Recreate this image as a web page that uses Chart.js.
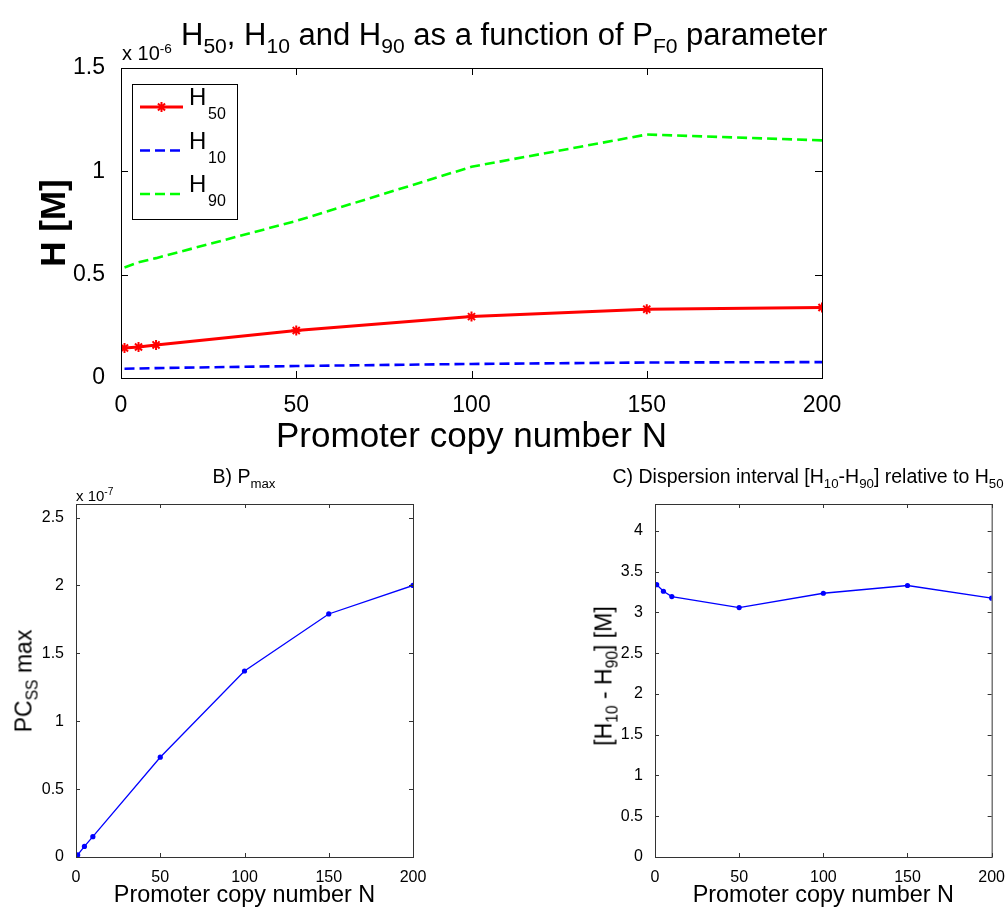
<!DOCTYPE html>
<html>
<head>
<meta charset="utf-8">
<script src="https://cdn.jsdelivr.net/npm/chart.js@4.4.1/dist/chart.umd.min.js"></script>
<style>
  body { margin:0; background:#fff; width:1008px; height:910px; position:relative; overflow:hidden;
         font-family:"Liberation Sans", Arial, sans-serif; color:#000; }
  canvas { position:absolute; }
  .t { position:absolute; white-space:nowrap; line-height:1; }
  .sb { font-size:0.68em; position:relative; top:0.38em; }
  .sp { font-size:0.68em; position:relative; top:-0.55em; }
  .rot { transform:translate(-50%,-50%) rotate(-90deg); }
  .ctr { transform:translateX(-50%); }
</style>
</head>
<body>
<canvas id="top-chart" width="1008" height="460" style="left:0;top:0;"></canvas>
<canvas id="b-chart" width="500" height="450" style="left:0;top:460px;"></canvas>
<canvas id="c-chart" width="508" height="450" style="left:500px;top:460px;"></canvas>

<!-- 제목, 지수, 아래첨자 있는 축 제목 -->
<div class="t" style="left:122px;top:43px;font-size:20px;">x 10<span class="sp">-6</span></div>
<div class="t" style="left:181px;top:19px;font-size:31px;">H<span class="sb">50</span>, H<span class="sb">10</span> and H<span class="sb">90</span> as a function of P<span class="sb">F0</span> parameter</div>

<div class="t" style="left:76px;top:488px;font-size:15px;">x 10<span class="sp">-7</span></div>
<div class="t ctr" style="left:244px;top:467px;font-size:19.5px;">B) P<span class="sb">max</span></div>
<div class="t ctr" style="left:808px;top:467px;font-size:19.5px;">C) Dispersion interval [H<span class="sb">10</span>-H<span class="sb">90</span>] relative to H<span class="sb">50</span></div>

<div class="t rot" style="left:24px;top:681px;font-size:23px;">PC<span class="sb">SS</span> max</div>
<div class="t rot" style="left:604px;top:676px;font-size:23px;">[H<span class="sb">10</span> - H<span class="sb">90</span>] [M]</div>

<script>
// ── 데이터 ──
const N      = [1, 5, 10, 50, 100, 150, 200];
const H50    = [0.145, 0.150, 0.160, 0.230, 0.297, 0.333, 0.341];   // x 10^-6
const H10    = [0.045, 0.046, 0.048, 0.058, 0.068, 0.075, 0.077];
const H90    = [0.535, 0.560, 0.580, 0.760, 1.022, 1.178, 1.150];
const PMAX   = [0.015, 0.078, 0.150, 0.735, 1.370, 1.790, 2.000];   // x 10^-7
const DISP   = [3.34, 3.26, 3.195, 3.06, 3.235, 3.33, 3.175];

const X_TICKS   = [0, 50, 100, 150, 200];
const TOP_TICKS = [0, 0.5, 1, 1.5];
const B_TICKS   = [0, 0.5, 1, 1.5, 2, 2.5];
const C_TICKS   = [0, 0.5, 1, 1.5, 2, 2.5, 3, 3.5, 4];
const LEG_SUBS  = ['50', '10', '90'];

const FONT = '"Liberation Sans", Arial, sans-serif';
const pts = arr => arr.map((v, i) => ({ x: N[i], y: v }));
const fixTicks = list => s => { s.ticks = list.map(v => ({ value: v })); };
const plain = v => String(Number(v));   // matlab 처럼 "1", "2" (1.0 아님)

// ── 박스 + 안쪽 눈금 (matlab 스타일) ──
const boxPlugin = {
  id: 'box',
  afterDraw(chart, args, o) {
    const { ctx, chartArea: a, scales: { x, y } } = chart;
    ctx.save();
    ctx.strokeStyle = o.color;
    ctx.lineWidth = 1;
    ctx.strokeRect(a.left + 0.5, a.top + 0.5, a.right - a.left, a.bottom - a.top);
    ctx.beginPath();
    x.ticks.forEach(t => {
      const px = Math.round(x.getPixelForValue(t.value)) + 0.5;
      ctx.moveTo(px, a.bottom); ctx.lineTo(px, a.bottom - o.len);
      ctx.moveTo(px, a.top);    ctx.lineTo(px, a.top + o.len);
    });
    y.ticks.forEach(t => {
      const py = Math.round(y.getPixelForValue(t.value)) + 0.5;
      ctx.moveTo(a.left, py);  ctx.lineTo(a.left + o.len, py);
      ctx.moveTo(a.right, py); ctx.lineTo(a.right - o.len, py);
    });
    ctx.stroke();
    ctx.restore();
  }
};

// ── 범례 (H + 아래첨자) ──
const hLegend = {
  id: 'hLegend',
  afterDatasetsDraw(chart) {
    const { ctx, chartArea: a } = chart;
    const bx = a.left + 11, by = a.top + 16, bw = 105, bh = 135;
    ctx.save();
    ctx.fillStyle = '#fff';
    ctx.fillRect(bx, by, bw, bh);
    ctx.strokeStyle = '#000';
    ctx.lineWidth = 1;
    ctx.strokeRect(bx + 0.5, by + 0.5, bw, bh);
    chart.data.datasets.forEach((ds, i) => {
      const ly = by + 23 + i * 43.5;
      ctx.strokeStyle = ds.borderColor;
      ctx.fillStyle = ds.borderColor;
      ctx.lineWidth = ds.borderWidth;
      ctx.setLineDash(ds.borderDash || []);
      ctx.beginPath(); ctx.moveTo(bx + 8, ly); ctx.lineTo(bx + 51, ly); ctx.stroke();
      ctx.setLineDash([]);
      if (ds.pointRadius) {
        ctx.lineWidth = ds.pointBorderWidth || 1;
        Chart.helpers.drawPoint(ctx, { pointStyle: ds.pointStyle, radius: ds.pointRadius, rotation: 0, borderWidth: ds.pointBorderWidth }, bx + 29.5, ly);
      }
      ctx.fillStyle = '#000';
      ctx.textBaseline = 'alphabetic';
      ctx.font = '24px ' + FONT;
      ctx.fillText('H', bx + 57, ly - 2);
      ctx.font = '16px ' + FONT;
      ctx.fillText(LEG_SUBS[i], bx + 76, ly + 12);
    });
    ctx.restore();
  }
};

Chart.defaults.font.family = FONT;
Chart.defaults.color = '#000';
Chart.defaults.animation = false;

// ── 상단 그래프 ──
new Chart(document.getElementById('top-chart'), {
  type: 'line',
  data: {
    datasets: [
      { label: 'H50', data: pts(H50), borderColor: '#ff0000', borderWidth: 3, pointStyle: 'star',
        pointRadius: 5, pointBorderWidth: 2, pointBorderColor: '#ff0000', pointBackgroundColor: '#ff0000' },
      { label: 'H10', data: pts(H10), borderColor: '#0000ff', borderWidth: 2.6, borderDash: [10, 5], pointRadius: 0 },
      { label: 'H90', data: pts(H90), borderColor: '#00ff00', borderWidth: 2.6, borderDash: [10, 5], pointRadius: 0 },
    ]
  },
  options: {
    responsive: false,
    layout: { padding: { left: 0, top: 68, right: 186, bottom: 0 } },
    plugins: { legend: { display: false }, tooltip: { enabled: false }, box: { color: '#000', len: 7 } },
    scales: {
      x: { type: 'linear', min: 0, max: 200, afterBuildTicks: fixTicks(X_TICKS),
           afterFit: s => { s.height = 82; },
           grid: { display: false }, border: { display: false },
           ticks: { font: { size: 23 }, padding: 6, maxRotation: 0, callback: plain },
           title: { display: true, text: 'Promoter copy number N', font: { size: 35 }, padding: { top: 0, bottom: 2 } } },
      y: { min: 0, max: 1.5, afterBuildTicks: fixTicks(TOP_TICKS),
           afterFit: s => { s.width = 121; },
           grid: { display: false }, border: { display: false },
           ticks: { font: { size: 23 }, padding: 8, callback: plain },
           title: { display: true, text: 'H [M]', font: { size: 35, weight: 'bold' }, padding: { top: 34, bottom: 0 } } },
    }
  },
  plugins: [boxPlugin, hLegend]
});

// ── 하단 그래프 공통 ──
function smallChart(id, values, yMax, yTicks, axisW, rightPad) {
  return new Chart(document.getElementById(id), {
    type: 'line',
    data: { datasets: [{ data: pts(values), borderColor: '#0000ff', borderWidth: 1.3,
                         pointRadius: 2.6, pointBorderWidth: 0, pointBackgroundColor: '#0000ff' }] },
    options: {
      responsive: false,
      layout: { padding: { left: 0, top: 44, right: rightPad, bottom: 0 } },
      plugins: { legend: { display: false }, tooltip: { enabled: false }, box: { color: '#333', len: 4 } },
      scales: {
        x: { type: 'linear', min: 0, max: 200, afterBuildTicks: fixTicks(X_TICKS),
             afterFit: s => { s.height = 53; },
             grid: { display: false }, border: { display: false },
             ticks: { font: { size: 16 }, padding: 3, maxRotation: 0, callback: plain },
             title: { display: true, text: 'Promoter copy number N', font: { size: 23.4 }, padding: { top: 0, bottom: 0 } } },
        y: { min: 0, max: yMax, afterBuildTicks: fixTicks(yTicks),
             afterFit: s => { s.width = axisW; },
             grid: { display: false }, border: { display: false },
             ticks: { font: { size: 16 }, padding: 4, callback: plain } },
      }
    },
    plugins: [boxPlugin]
  });
}

smallChart('b-chart', PMAX, 2.6, B_TICKS, 76, 87);
smallChart('c-chart', DISP, 4.33, C_TICKS, 155, 16);
</script>
</body>
</html>
